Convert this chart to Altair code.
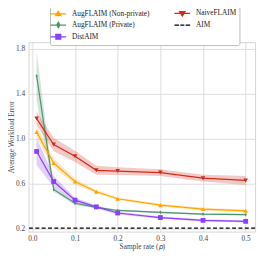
import altair as alt
import pandas as pd

# ---- data ----
sample_rate = [0.01, 0.05, 0.1, 0.15, 0.2, 0.3, 0.4, 0.5]

non_private = [1.06, 0.785, 0.62, 0.53, 0.467, 0.41, 0.375, 0.36]
non_private_err = [0.05, 0.04, 0.025, 0.015, 0.012, 0.012, 0.012, 0.012]

private = [1.56, 0.55, 0.427, 0.39, 0.363, 0.346, 0.33, 0.326]
private_err = [0.22, 0.02, 0.015, 0.01, 0.008, 0.008, 0.008, 0.008]

dist_aim = [0.888, 0.62, 0.455, 0.395, 0.34, 0.30, 0.275, 0.266]
dist_aim_err = [0.12, 0.05, 0.02, 0.015, 0.012, 0.01, 0.01, 0.01]

naive = [1.18, 0.95, 0.845, 0.72, 0.713, 0.70, 0.65, 0.63]
naive_err = [0.06, 0.06, 0.05, 0.04, 0.035, 0.03, 0.03, 0.04]

aim_value = 0.205

names = ["AugFLAIM (Non-private)", "AugFLAIM (Private)", "DistAIM", "NaiveFLAIM", "AIM"]
colors = ["#ffa500", "#4e946a", "#8a3ffc", "#d42a1c", "#000000"]
x_ticks = [0.0, 0.1, 0.2, 0.3, 0.4, 0.5]
y_ticks = [0.2, 0.4, 0.6, 0.8, 1.0, 1.2, 1.4, 1.6, 1.8]

series = {
    "AugFLAIM (Private)": (private, private_err),
    "AugFLAIM (Non-private)": (non_private, non_private_err),
    "DistAIM": (dist_aim, dist_aim_err),
    "NaiveFLAIM": (naive, naive_err),
}
color_of = dict(zip(names, colors))

rows = []
for name, (vals, errs) in series.items():
    for x, v, e in zip(sample_rate, vals, errs):
        rows.append({"series": name, "p": x, "err": v, "lo": v - e, "hi": v + e})
df = pd.DataFrame(rows)
legend_df = pd.DataFrame({"series": names})

FONT = "Liberation Serif"

xs = alt.Scale(domain=[-0.009, 0.522], nice=False, zero=False)
ys = alt.Scale(domain=[0.175, 1.86], nice=False, zero=False)

xenc = alt.X("p:Q", scale=xs,
             axis=alt.Axis(values=x_ticks, format=".1f", title="Sample rate (𝑝)",
                           grid=True, domain=False, ticks=False, labelPadding=3,
                           titlePadding=1, labelOverlap=False))
yenc = alt.Y("err:Q", scale=ys,
             axis=alt.Axis(values=y_ticks, format=".1f", title="Average Workload Error",
                           grid=True, domain=False, ticks=False, labelPadding=4,
                           titleX=-13, labelOverlap=False))

base = alt.Chart(df)

marker_shapes = {
    "AugFLAIM (Non-private)": ("triangle-up", 22),
    "AugFLAIM (Private)": ("M0,-1L0.55,0L0,1L-0.55,0Z", 16),
    "DistAIM": ("square", 24),
    "NaiveFLAIM": ("triangle-down", 22),
}

band_layers, line_layers, point_layers = [], [], []
for name in series:
    c = color_of[name]
    shp, sz = marker_shapes[name]
    sub = base.transform_filter(alt.datum.series == name)
    band_layers.append(sub.mark_area(opacity=0.25, color=c).encode(
        x=xenc, y=alt.Y("lo:Q", scale=ys), y2="hi:Q"))
    line_layers.append(sub.mark_line(strokeWidth=1.2, color=c).encode(x=xenc, y=yenc))
    point_layers.append(sub.mark_point(filled=True, opacity=1, shape=shp, size=sz, color=c)
                        .encode(x=xenc, y=yenc))

aim_rule = alt.Chart(legend_df).transform_filter(alt.datum.series == "AIM").mark_rule(
    color="black", strokeDash=[4, 2.5], strokeWidth=1.3
).encode(y=alt.datum(aim_value, scale=ys))

# legend-only layer (invisible marks, custom line+marker symbols)
L = 1.78
legend_paths = [
    f"M-{L},0H{L}M0,-0.6L0.6,0.4L-0.6,0.4Z",
    f"M-{L},0H{L}M0,-0.62L0.35,0L0,0.62L-0.35,0Z",
    f"M-{L},0H{L}M-0.55,-0.55H0.55V0.55H-0.55Z",
    f"M-{L},0H{L}M0,0.6L0.6,-0.4L-0.6,-0.4Z",
    f"M-{L},0H-0.75M-0.45,0H0.45M0.75,0H{L}",
]
leg = alt.Legend(title=None, orient="none", legendX=22, legendY=-38, columns=2,
                 symbolSize=81, symbolStrokeWidth=1.3, symbolOpacity=1,
                 labelOffset=8.5, labelFont=FONT, labelFontSize=7.5,
                 labelColor="#222222", rowPadding=1, columnPadding=22,
                 padding=3, fillColor="white", strokeColor="#bbbbbb",
                 cornerRadius=2)
legend_layer = alt.Chart(legend_df).mark_point(filled=True, opacity=0).encode(
    color=alt.Color("series:N", scale=alt.Scale(domain=names, range=colors), legend=leg, sort=names),
    stroke=alt.Stroke("series:N", scale=alt.Scale(domain=names, range=colors), legend=leg, sort=names),
    shape=alt.Shape("series:N", scale=alt.Scale(domain=names, range=legend_paths), legend=leg, sort=names),
)

chart = alt.layer(*band_layers, *line_layers, *point_layers, aim_rule, legend_layer).properties(
    width=232, height=194,
    autosize=alt.AutoSizeParams(type="none"),
    padding={"left": 21, "top": 32, "right": 3, "bottom": 21},
).configure_view(
    stroke="#d5d5d5"
).configure_axis(
    labelFont=FONT, titleFont=FONT, labelFontSize=7.5, titleFontSize=7.5,
    labelColor="#444444", titleColor="#444444", gridColor="#dddddd",
    titleFontWeight="normal",
)

chart.save("out.html", embed_options={"renderer": "svg", "actions": False})
